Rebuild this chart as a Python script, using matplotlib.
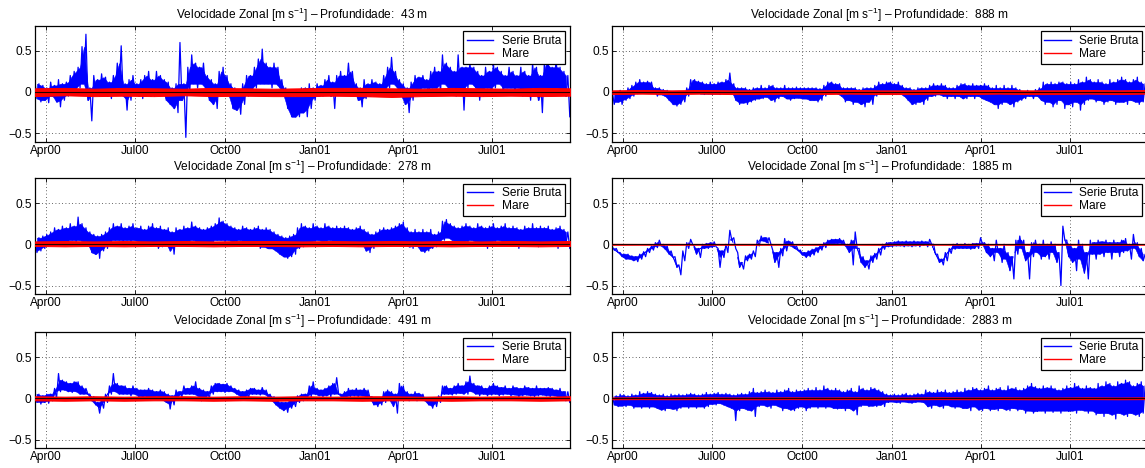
import numpy as np
import matplotlib
matplotlib.use("Agg")
import matplotlib.pyplot as plt
import matplotlib.dates as mdates
from matplotlib.lines import Line2D

plt.rcParams['font.family'] = ['Liberation Sans', 'DejaVu Sans']
plt.rcParams['mathtext.fontset'] = 'custom'
plt.rcParams['mathtext.rm'] = 'Liberation Sans'
plt.rcParams['mathtext.it'] = 'Liberation Sans:italic'
plt.rcParams['mathtext.bf'] = 'Liberation Sans:bold'

# ---------------------------------------------------------------- data
depths = [43, 278, 491, 888, 1885, 2883]
series_start = '2000-03-21'   # first 4-day bin
bin_days = 4
span_days = 546.2             # visible record length (days)

tick_dates = ['2000-04-01', '2000-07-01', '2000-10-01',
              '2001-01-01', '2001-04-01', '2001-07-01']
tick_labels = ['Apr00', 'Jul00', 'Oct00', 'Jan01', 'Apr01', 'Jul01']
ytick_vals = [-0.5, 0.0, 0.5]
ytick_labels = ['\u22120.5', '0', '0.5']

# raw zonal velocity, per 4-day bin: bin maximum (hi) and minimum (lo), m/s
u43_hi = [0.12, 0.10, 0.08, 0.05, 0.12, 0.08, 0.15, 0.10, 0.12, 0.20,
          0.25, 0.30, 0.55, 0.70, 0.05, 0.20, 0.15, 0.22, 0.18, 0.12,
          0.20, 0.35, 0.56, 0.10, 0.15, 0.20, 0.10, 0.15, 0.20, 0.25,
          0.15, 0.25, 0.20, 0.15, 0.12, 0.05, 0.10, 0.60, 0.10, 0.30,
          0.45, 0.35, 0.30, 0.35, 0.20, 0.15, 0.10, 0.25, 0.30, 0.20,
          0.10, 0.05, 0.00, 0.10, 0.20, 0.20, 0.30, 0.40, 0.52, 0.35,
          0.30, 0.35, 0.30, 0.15, 0.05, 0.00, -0.05, 0.00, 0.05, 0.05,
          0.10, 0.05, 0.10, 0.08, 0.15, 0.20, 0.12, 0.20, 0.25, 0.20,
          0.35, 0.25, 0.10, 0.05, 0.15, 0.10, 0.15, 0.12, 0.10, 0.20,
          0.30, 0.42, 0.25, 0.15, 0.10, 0.05, 0.12, 0.20, 0.18, 0.20,
          0.15, 0.25, 0.30, 0.25, 0.45, 0.35, 0.30, 0.25, 0.45, 0.30,
          0.30, 0.35, 0.30, 0.25, 0.20, 0.30, 0.25, 0.35, 0.30, 0.25,
          0.20, 0.30, 0.25, 0.20, 0.30, 0.25, 0.20, 0.35, 0.30, 0.20,
          0.35, 0.35, 0.30, 0.40, 0.30, 0.25, 0.20]
u43_lo = [-0.08, -0.12, -0.10, -0.13, -0.05, -0.12, -0.18, -0.10, -0.05, -0.03,
          0.00, 0.05, 0.10, -0.10, -0.35, -0.02, -0.05, 0.00, -0.05, -0.08,
          -0.02, 0.05, -0.05, -0.22, -0.10, 0.00, -0.05, -0.08, -0.02, -0.05,
          -0.05, 0.00, 0.02, -0.10, -0.15, -0.20, -0.25, -0.10, -0.55, 0.00,
          0.10, 0.05, 0.10, 0.05, -0.10, -0.15, -0.20, -0.05, 0.00, -0.05,
          -0.20, -0.22, -0.27, -0.15, -0.05, 0.00, 0.05, 0.10, 0.10, 0.10,
          0.05, 0.10, 0.05, -0.05, -0.20, -0.30, -0.30, -0.30, -0.25, -0.30,
          -0.20, -0.10, -0.05, -0.05, -0.02, -0.05, -0.20, -0.02, 0.00, 0.05,
          0.05, 0.00, -0.10, -0.18, -0.08, -0.05, -0.05, -0.03, -0.05, -0.02,
          0.05, 0.10, 0.05, -0.05, -0.15, -0.25, -0.10, 0.00, 0.02, 0.05,
          -0.05, 0.05, 0.05, 0.00, 0.10, 0.05, 0.05, -0.05, 0.05, -0.22,
          0.05, 0.10, 0.05, -0.10, -0.05, 0.05, 0.00, 0.05, 0.10, 0.00,
          0.05, 0.05, 0.00, 0.05, -0.05, 0.00, -0.10, 0.05, -0.10, -0.25,
          0.05, 0.05, 0.05, 0.05, 0.00, -0.05, -0.30]

u278_hi = [0.08, 0.08, 0.10, 0.12, 0.15, 0.20, 0.18, 0.22, 0.20, 0.25,
           0.22, 0.33, 0.25, 0.20, 0.15, 0.12, 0.10, 0.12, 0.15, 0.20,
           0.25, 0.22, 0.25, 0.20, 0.22, 0.25, 0.20, 0.22, 0.18, 0.22,
           0.25, 0.20, 0.22, 0.18, 0.20, 0.15, 0.20, 0.18, 0.22, 0.20,
           0.27, 0.22, 0.20, 0.18, 0.20, 0.22, 0.25, 0.32, 0.28, 0.25,
           0.22, 0.20, 0.18, 0.22, 0.20, 0.18, 0.20, 0.22, 0.18, 0.20,
           0.18, 0.15, 0.12, 0.10, 0.08, 0.10, 0.12, 0.20, 0.25, 0.22,
           0.20, 0.25, 0.22, 0.20, 0.25, 0.22, 0.20, 0.22, 0.20, 0.22,
           0.20, 0.18, 0.20, 0.22, 0.18, 0.15, 0.12, 0.15, 0.18, 0.20,
           0.18, 0.20, 0.22, 0.25, 0.27, 0.20, 0.15, 0.18, 0.15, 0.18,
           0.15, 0.18, 0.12, 0.15, 0.28, 0.30, 0.25, 0.22, 0.20, 0.22,
           0.25, 0.22, 0.20, 0.25, 0.22, 0.20, 0.22, 0.25, 0.20, 0.22,
           0.25, 0.20, 0.22, 0.20, 0.18, 0.22, 0.20, 0.25, 0.20, 0.22,
           0.20, 0.22, 0.18, 0.20, 0.22, 0.18, 0.15]
u278_lo = [-0.10, -0.08, -0.05, -0.02, 0.00, 0.02, 0.03, 0.02, 0.03, 0.05,
           0.03, 0.05, 0.02, 0.00, -0.10, -0.12, -0.17, -0.08, -0.05, 0.02,
           0.05, 0.05, 0.03, 0.05, 0.03, 0.05, 0.03, 0.02, 0.03, -0.02,
           0.00, -0.05, -0.03, 0.00, -0.08, -0.12, 0.00, 0.02, 0.00, 0.03,
           0.05, 0.02, 0.00, 0.03, 0.02, 0.00, 0.05, 0.05, 0.03, 0.05,
           0.03, 0.02, 0.05, 0.03, 0.02, 0.03, 0.00, -0.05, -0.03, -0.05,
           -0.05, -0.08, -0.12, -0.15, -0.17, -0.15, -0.12, -0.05, -0.03, 0.00,
           0.02, 0.03, 0.05, 0.03, 0.02, 0.05, 0.03, 0.02, 0.03, 0.00,
           0.02, 0.00, -0.02, 0.00, -0.08, -0.10, -0.05, 0.00, 0.02, 0.00,
           0.02, 0.00, 0.03, 0.02, 0.00, -0.03, -0.05, -0.02, -0.08, -0.10,
           -0.08, -0.05, -0.03, 0.00, 0.05, 0.08, 0.05, 0.03, 0.02, 0.03,
           0.02, 0.05, 0.03, 0.00, 0.02, -0.05, 0.03, 0.02, 0.05, 0.03,
           0.00, 0.02, 0.03, -0.05, 0.02, 0.03, 0.00, 0.02, -0.03, 0.02,
           0.03, 0.00, 0.02, -0.05, 0.02, 0.00, -0.05]

u491_hi = [0.05, 0.05, 0.03, 0.05, 0.05, 0.12, 0.30, 0.22, 0.20, 0.18,
           0.20, 0.20, 0.15, 0.12, 0.05, 0.02, -0.05, -0.02, 0.05, 0.15,
           0.30, 0.18, 0.15, 0.15, 0.12, 0.15, 0.12, 0.10, 0.10, 0.12,
           0.10, 0.08, 0.10, 0.08, 0.05, 0.03, 0.10, 0.08, 0.15, 0.12,
           0.15, 0.20, 0.12, 0.10, 0.08, 0.15, 0.18, 0.18, 0.17, 0.18,
           0.15, 0.12, 0.10, 0.08, 0.10, 0.12, 0.12, 0.10, 0.13, 0.10,
           0.05, 0.02, -0.03, -0.05, -0.05, -0.02, -0.02, 0.03, 0.05, 0.05,
           0.15, 0.20, 0.12, 0.10, 0.12, 0.15, 0.18, 0.25, 0.05, 0.08,
           0.12, 0.10, 0.12, 0.10, 0.12, 0.10, 0.02, 0.00, 0.00, 0.08,
           0.10, 0.08, 0.05, 0.18, 0.15, 0.08, 0.05, 0.08, 0.06, 0.05,
           0.00, -0.02, 0.00, 0.03, 0.15, 0.15, 0.12, 0.15, 0.18, 0.15,
           0.20, 0.27, 0.18, 0.15, 0.15, 0.12, 0.15, 0.18, 0.15, 0.13,
           0.15, 0.12, 0.15, 0.13, 0.12, 0.15, 0.13, 0.12, 0.15, 0.12,
           0.12, 0.13, 0.12, 0.10, 0.12, 0.08, 0.08]
u491_lo = [-0.05, -0.07, -0.05, -0.06, -0.03, 0.00, 0.08, 0.10, 0.08, 0.07,
           0.08, 0.05, 0.05, 0.05, -0.03, -0.08, -0.18, -0.12, -0.05, 0.05,
           0.08, 0.05, 0.05, 0.05, 0.03, 0.05, 0.02, 0.00, 0.02, 0.00,
           0.00, 0.02, -0.02, -0.05, -0.13, -0.08, 0.00, 0.02, 0.05, 0.05,
           0.05, 0.03, -0.03, -0.02, 0.00, 0.05, 0.08, 0.08, 0.07, 0.08,
           0.08, 0.05, 0.02, 0.00, 0.00, 0.05, 0.05, 0.04, 0.05, 0.02,
           -0.03, -0.08, -0.12, -0.15, -0.17, -0.12, -0.10, -0.05, -0.03, -0.02,
           0.02, 0.05, 0.03, 0.02, 0.03, 0.02, 0.05, 0.05, -0.02, 0.00,
           0.02, 0.03, 0.02, 0.03, 0.02, 0.00, -0.08, -0.10, -0.08, -0.05,
           -0.02, -0.10, -0.18, 0.00, 0.00, -0.03, -0.02, -0.03, -0.02, -0.03,
           -0.08, -0.12, -0.10, -0.05, 0.05, 0.05, 0.04, 0.05, 0.06, 0.05,
           0.05, 0.08, 0.05, 0.03, 0.05, 0.03, 0.04, 0.05, 0.03, 0.04,
           0.05, 0.03, 0.04, 0.02, 0.03, 0.04, 0.03, 0.02, 0.03, 0.04,
           0.03, 0.02, 0.03, 0.02, 0.00, -0.03, -0.05]

u888_hi = [0.00, 0.00, 0.02, 0.00, 0.05, 0.08, 0.12, 0.15, 0.12, 0.13,
           0.12, 0.05, 0.05, 0.03, 0.02, 0.00, -0.02, 0.00, 0.00, 0.05,
           0.15, 0.15, 0.13, 0.12, 0.10, 0.12, 0.10, 0.12, 0.12, 0.15,
           0.23, 0.10, 0.05, 0.05, 0.05, 0.03, 0.05, 0.05, 0.08, 0.05,
           0.08, 0.08, 0.05, 0.05, 0.08, 0.05, 0.05, 0.06, 0.05, 0.05,
           0.05, 0.05, 0.05, 0.04, 0.08, 0.12, 0.12, 0.10, 0.10, 0.05,
           0.05, 0.05, 0.05, 0.03, 0.05, 0.05, 0.05, 0.08, 0.12, 0.10,
           0.12, 0.12, 0.10, 0.12, 0.08, 0.05, 0.05, 0.03, 0.05, 0.05,
           0.05, 0.08, 0.10, 0.08, 0.10, 0.08, 0.05, 0.05, 0.08, 0.10,
           0.10, 0.08, 0.10, 0.08, 0.08, 0.10, 0.08, 0.05, 0.08, 0.05,
           0.08, 0.05, 0.08, 0.05, 0.03, 0.00, 0.02, 0.00, 0.03, 0.05,
           0.12, 0.10, 0.12, 0.10, 0.12, 0.12, 0.10, 0.12, 0.10, 0.15,
           0.12, 0.18, 0.15, 0.12, 0.15, 0.12, 0.10, 0.15, 0.12, 0.15,
           0.18, 0.15, 0.12, 0.15, 0.18, 0.12, 0.10]
u888_lo = [-0.15, -0.12, -0.15, -0.10, -0.08, -0.05, -0.02, 0.00, 0.02, 0.00,
           0.00, -0.05, -0.03, -0.05, -0.10, -0.15, -0.17, -0.15, -0.12, -0.05,
           0.00, 0.00, -0.02, -0.03, -0.02, -0.03, -0.02, -0.03, -0.02, 0.00,
           0.00, -0.10, -0.15, -0.13, -0.15, -0.12, -0.10, -0.08, -0.08, -0.06,
           -0.10, -0.12, -0.08, -0.05, -0.08, -0.10, -0.08, -0.07, -0.08, -0.08,
           -0.10, -0.10, -0.12, -0.10, -0.05, 0.00, 0.00, -0.02, -0.05, -0.12,
           -0.10, -0.15, -0.12, -0.15, -0.18, -0.12, -0.15, -0.05, -0.02, -0.02,
           0.00, -0.02, -0.03, -0.02, -0.05, -0.10, -0.15, -0.15, -0.12, -0.15,
           -0.10, -0.05, -0.05, -0.03, -0.05, -0.08, -0.05, -0.08, -0.05, -0.08,
           -0.08, -0.05, -0.08, -0.05, -0.08, -0.10, -0.12, -0.15, -0.20, -0.15,
           -0.12, -0.15, -0.18, -0.12, -0.10, -0.08, -0.05, -0.08, -0.05, -0.10,
           -0.15, -0.12, -0.18, -0.15, -0.10, -0.20, -0.15, -0.18, -0.12, -0.22,
           -0.15, -0.10, -0.08, -0.12, -0.10, -0.15, -0.12, -0.10, -0.15, -0.12,
           -0.12, -0.15, -0.10, -0.12, -0.15, -0.12, -0.10]

u1885_hi = [-0.03, -0.05, -0.10, -0.12, -0.12, -0.14, -0.15, -0.12, -0.09, -0.05,
            -0.02, 0.02, 0.05, 0.00, -0.02, -0.08, -0.15, -0.25, -0.08, 0.02,
            0.06, -0.03, -0.05, 0.00, 0.01, 0.02, 0.03, -0.05, -0.08, 0.00,
            0.17, 0.08, -0.10, -0.22, -0.14, -0.12, -0.08, 0.05, 0.10, 0.08,
            0.08, -0.08, -0.10, -0.05, 0.07, 0.04, 0.03, -0.02, -0.07, -0.10,
            -0.08, -0.06, -0.04, -0.02, 0.02, 0.05, 0.06, 0.06, 0.07, 0.05,
            0.00, 0.05, 0.15, -0.05, -0.15, -0.20, -0.14, -0.11, -0.05, 0.00,
            0.02, 0.02, 0.03, 0.04, 0.03, 0.04, 0.03, 0.04, 0.03, 0.04,
            0.03, 0.06, 0.00, -0.12, -0.18, -0.10, -0.05, 0.00, 0.01, 0.00,
            0.01, 0.00, 0.01, 0.01, 0.08, 0.02, 0.00, -0.05, 0.05, -0.05,
            0.00, -0.10, -0.15, 0.05, 0.10, 0.05, -0.10, 0.02, 0.05, 0.00,
            0.05, 0.00, 0.03, 0.00, -0.10, 0.22, 0.05, 0.00, -0.05, 0.05,
            0.00, -0.10, 0.05, 0.02, 0.05, 0.03, 0.05, 0.02, 0.05, 0.02,
            0.05, 0.07, 0.00, 0.12, 0.02, -0.05, -0.12]
u1885_lo = [-0.07, -0.10, -0.15, -0.18, -0.18, -0.20, -0.21, -0.18, -0.15, -0.10,
            -0.07, -0.04, -0.02, -0.06, -0.12, -0.16, -0.28, -0.37, -0.20, -0.05,
            0.00, -0.12, -0.16, -0.05, -0.05, -0.04, -0.03, -0.28, -0.16, -0.10,
            0.05, -0.05, -0.28, -0.30, -0.20, -0.18, -0.15, -0.02, 0.04, 0.02,
            0.00, -0.22, -0.28, -0.14, -0.08, -0.02, -0.05, -0.08, -0.13, -0.16,
            -0.15, -0.13, -0.10, -0.07, -0.04, 0.00, 0.00, 0.00, 0.01, -0.02,
            -0.10, -0.25, -0.05, -0.22, -0.28, -0.30, -0.22, -0.18, -0.13, -0.06,
            -0.03, -0.03, -0.02, -0.02, -0.03, -0.02, -0.03, -0.02, -0.03, -0.01,
            -0.03, 0.00, -0.12, -0.22, -0.25, -0.20, -0.11, -0.06, -0.05, -0.05,
            -0.05, -0.06, -0.05, -0.05, 0.00, -0.10, -0.15, -0.20, -0.10, -0.22,
            -0.18, -0.32, -0.42, -0.12, -0.05, -0.20, -0.42, -0.15, -0.10, -0.18,
            -0.15, -0.18, -0.10, -0.22, -0.50, 0.05, -0.15, -0.22, -0.32, -0.18,
            -0.35, -0.42, -0.12, -0.18, -0.12, -0.15, -0.10, -0.18, -0.10, -0.15,
            -0.10, -0.08, -0.18, -0.05, -0.15, -0.20, -0.22]

u2883_hi = [0.04, 0.03, 0.05, 0.04, 0.03, 0.05, 0.04, 0.08, 0.06, 0.08,
            0.07, 0.05, 0.04, 0.05, 0.03, 0.05, 0.04, 0.05, 0.04, 0.05,
            0.06, 0.05, 0.04, 0.05, 0.07, 0.05, 0.06, 0.07, 0.05, 0.06,
            0.05, 0.04, 0.05, 0.06, 0.05, 0.08, 0.12, 0.07, 0.08, 0.10,
            0.08, 0.07, 0.10, 0.08, 0.10, 0.12, 0.08, 0.10, 0.09, 0.10,
            0.12, 0.10, 0.13, 0.10, 0.15, 0.12, 0.10, 0.12, 0.10, 0.08,
            0.10, 0.12, 0.08, 0.15, 0.12, 0.10, 0.13, 0.12, 0.10, 0.08,
            0.05, 0.04, 0.05, 0.04, 0.05, 0.06, 0.04, 0.05, 0.06, 0.05,
            0.10, 0.08, 0.07, 0.10, 0.08, 0.10, 0.07, 0.08, 0.10, 0.08,
            0.12, 0.10, 0.13, 0.12, 0.10, 0.12, 0.15, 0.10, 0.12, 0.13,
            0.10, 0.15, 0.12, 0.13, 0.10, 0.12, 0.15, 0.18, 0.14, 0.12,
            0.15, 0.13, 0.15, 0.12, 0.10, 0.12, 0.15, 0.13, 0.18, 0.15,
            0.12, 0.15, 0.13, 0.12, 0.18, 0.15, 0.20, 0.18, 0.15, 0.20,
            0.18, 0.22, 0.20, 0.15, 0.18, 0.20, 0.15]
u2883_lo = [-0.08, -0.10, -0.09, -0.10, -0.08, -0.12, -0.10, -0.12, -0.10, -0.12,
            -0.10, -0.12, -0.14, -0.15, -0.12, -0.13, -0.15, -0.12, -0.10, -0.12,
            -0.10, -0.12, -0.10, -0.12, -0.10, -0.07, -0.08, -0.06, -0.08, -0.10,
            -0.12, -0.27, -0.15, -0.12, -0.14, -0.15, -0.22, -0.10, -0.08, -0.10,
            -0.12, -0.08, -0.10, -0.15, -0.12, -0.14, -0.15, -0.12, -0.10, -0.15,
            -0.12, -0.10, -0.12, -0.10, -0.12, -0.10, -0.12, -0.13, -0.12, -0.15,
            -0.12, -0.15, -0.20, -0.10, -0.08, -0.10, -0.09, -0.10, -0.08, -0.10,
            -0.05, -0.04, -0.05, -0.06, -0.04, -0.05, -0.06, -0.05, -0.04, -0.05,
            -0.10, -0.12, -0.08, -0.10, -0.12, -0.08, -0.10, -0.12, -0.10, -0.12,
            -0.12, -0.15, -0.10, -0.14, -0.15, -0.12, -0.15, -0.13, -0.15, -0.12,
            -0.14, -0.15, -0.12, -0.15, -0.13, -0.18, -0.15, -0.18, -0.16, -0.15,
            -0.18, -0.15, -0.17, -0.15, -0.18, -0.15, -0.16, -0.15, -0.18, -0.14,
            -0.15, -0.18, -0.15, -0.20, -0.18, -0.22, -0.18, -0.20, -0.25, -0.18,
            -0.20, -0.22, -0.18, -0.20, -0.22, -0.18, -0.15]

# tidal signal envelope (upper / lower), roughly monthly, m/s
tide43_top = [0.045, 0.05, 0.04, 0.05, 0.045, 0.04, 0.05, 0.045, 0.04, 0.045,
              0.05, 0.05, 0.045, 0.04, 0.05, 0.045, 0.04, 0.05, 0.045]
tide43_bot = [-0.05, -0.04, -0.05, -0.045, -0.05, -0.04, -0.05, -0.045, -0.05, -0.05,
              -0.045, -0.05, -0.06, -0.05, -0.045, -0.05, -0.045, -0.05, -0.045]
tide278_top = [0.035, 0.04, 0.035, 0.04, 0.035, 0.04, 0.035, 0.04, 0.04, 0.035,
               0.04, 0.035, 0.04, 0.035, 0.04, 0.035, 0.04, 0.035, 0.04]
tide278_bot = [-0.02, -0.025, -0.02, -0.025, -0.02, -0.02, -0.025, -0.02, -0.02, -0.025,
               -0.02, -0.025, -0.02, -0.02, -0.025, -0.02, -0.02, -0.025, -0.02]
tide491_top = [0.025, 0.02, 0.025, 0.02, 0.025, 0.025, 0.02, 0.025, 0.02, 0.025,
               0.02, 0.025, 0.025, 0.02, 0.025, 0.02, 0.025, 0.02, 0.025]
tide491_bot = [-0.025, -0.03, -0.025, -0.03, -0.025, -0.025, -0.03, -0.025, -0.03, -0.025,
               -0.025, -0.03, -0.025, -0.025, -0.03, -0.025, -0.025, -0.03, -0.025]
tide888_top = [0.02, 0.025, 0.02, 0.025, 0.02, 0.02, 0.025, 0.02, 0.025, 0.02,
               0.02, 0.025, 0.02, 0.025, 0.02, 0.02, 0.025, 0.02, 0.025]
tide888_bot = [-0.025, -0.02, -0.025, -0.02, -0.025, -0.025, -0.02, -0.025, -0.02, -0.025,
               -0.025, -0.02, -0.025, -0.02, -0.025, -0.025, -0.02, -0.025, -0.02]
tide1885_top = [0.006, 0.005, 0.006, 0.005, 0.006, 0.006, 0.005, 0.006, 0.005, 0.006,
                0.006, 0.005, 0.006, 0.005, 0.006, 0.006, 0.005, 0.006, 0.005]
tide1885_bot = [-0.006, -0.005, -0.006, -0.005, -0.006, -0.006, -0.005, -0.006, -0.005, -0.006,
                -0.006, -0.005, -0.006, -0.005, -0.006, -0.006, -0.005, -0.006, -0.005]
tide2883_top = [0.01, 0.012, 0.01, 0.012, 0.01, 0.01, 0.012, 0.01, 0.012, 0.01,
                0.01, 0.012, 0.01, 0.012, 0.01, 0.01, 0.012, 0.01, 0.012]
tide2883_bot = [-0.012, -0.01, -0.012, -0.01, -0.012, -0.012, -0.01, -0.012, -0.01, -0.012,
                -0.012, -0.01, -0.012, -0.01, -0.012, -0.012, -0.01, -0.012, -0.01]

panels = [
    (43, u43_hi, u43_lo, tide43_top, tide43_bot),
    (278, u278_hi, u278_lo, tide278_top, tide278_bot),
    (491, u491_hi, u491_lo, tide491_top, tide491_bot),
    (888, u888_hi, u888_lo, tide888_top, tide888_bot),
    (1885, u1885_hi, u1885_lo, tide1885_top, tide1885_bot),
    (2883, u2883_hi, u2883_lo, tide2883_top, tide2883_bot),
]

# ---------------------------------------------------------------- layout
W, H = 1145, 468
fig = plt.figure(figsize=(W / 100, H / 100), dpi=100)

col_left = [35.0, 612.3]
ax_w = 535.0
row_top = [26.0, 178.3, 332.3]
ax_h = 115.5

FS = 8.6
BLUE = '#0000ff'
RED = '#ff0000'
t0 = mdates.date2num(np.datetime64(series_start))
tick_pos = [mdates.date2num(np.datetime64(d)) for d in tick_dates]

for i, (depth, hi, lo, ttop, tbot) in enumerate(panels):
    col, row = divmod(i, 3)
    x0 = col_left[col]
    y0 = row_top[row]
    ax = fig.add_axes([x0 / W, (H - y0 - ax_h) / H, ax_w / W, ax_h / H])

    n = min(len(hi), len(lo))
    hi_a = np.asarray(hi[:n])
    lo_a = np.asarray(lo[:n])
    th = t0 + bin_days * np.arange(n)

    # solid core where neighbouring bins overlap; the trace's excursions
    # beyond it are left as spikes by the zig-zag line
    core_hi = np.minimum(hi_a[:-1], hi_a[1:])
    core_lo = np.maximum(lo_a[:-1], lo_a[1:])
    tc = th[:-1] + bin_days / 2
    ax.fill_between(tc, core_lo, core_hi, where=core_hi >= core_lo,
                    interpolate=True, facecolor=BLUE, edgecolor=BLUE,
                    lw=0.4, zorder=2)
    xs = np.empty(2 * n)
    ys = np.empty(2 * n)
    xs[0::2] = th
    xs[1::2] = th + bin_days / 2
    ys[0::2] = hi_a
    ys[1::2] = lo_a
    ax.plot(xs, ys, color=BLUE, lw=0.9, zorder=2)

    td = np.linspace(t0, t0 + span_days, len(ttop))
    ax.fill_between(td, tbot, ttop, facecolor=RED, edgecolor=RED,
                    lw=0.7, zorder=3)
    ax.axhline(0, color='#200000', lw=0.8, zorder=4)

    ax.set_xlim(t0, t0 + span_days)
    ax.set_ylim(-0.6, 0.8)
    ax.set_xticks(tick_pos)
    ax.set_xticklabels(tick_labels)
    ax.set_yticks(ytick_vals)
    ax.set_yticklabels(ytick_labels)
    ax.tick_params(direction='in', length=3, width=0.6, labelsize=FS,
                   top=True, right=True, pad=2.5, colors='k')
    ax.grid(True, color='#333333', linestyle=(0, (1, 3)), lw=0.6)
    for s in ax.spines.values():
        s.set_linewidth(0.9)
        s.set_color('k')

    ax.set_title('Velocidade Zonal [m s$^{-1}$] \u2013 Profundidade:  %d m' % depth,
                 fontsize=FS, pad=5)

    handles = [Line2D([], [], color=BLUE, lw=1.0),
               Line2D([], [], color=RED, lw=1.0)]
    leg = ax.legend(handles, ['Serie Bruta', 'Mare'], loc='upper right',
                    fontsize=FS, frameon=True, fancybox=False, framealpha=1,
                    edgecolor='k', borderpad=0.3, labelspacing=0.1,
                    handlelength=2.2, handletextpad=0.7,
                    borderaxespad=0.45)
    leg.get_frame().set_linewidth(0.9)
    leg.set_zorder(10)

fig.savefig('out.png', dpi=100)
